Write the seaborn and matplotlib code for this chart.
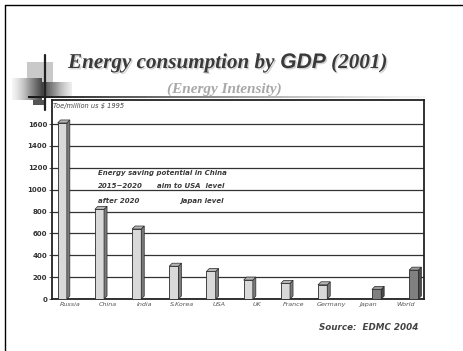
import matplotlib
matplotlib.use("Agg")
import matplotlib.pyplot as plt
import matplotlib.patheffects as pe
from matplotlib.patches import Polygon, Rectangle
import numpy as np
import pandas as pd
import seaborn as sns

# Energy intensity, toe per million US$ (1995 prices), 2001
countries = ["Russia", "China", "India", "S.Korea", "USA",
             "UK", "France", "Germany", "Japan", "World"]
intensity = [1610, 820, 640, 300, 252, 173, 143, 130, 88, 264]
groups = ["Others"] * 8 + ["Reference"] * 2
yticks = [0, 200, 400, 600, 800, 1000, 1200, 1400, 1600]

W, H = 464, 351

sns.set_theme(style="white")
plt.rcParams["font.family"] = ["DejaVu Sans"]

fig = plt.figure(figsize=(W / 100, H / 100), dpi=100)
fig.patch.set_facecolor("white")


def fx(x):
    return x / W


def fy(y):
    return 1 - y / H


# Slide decoration layer in pixel coordinates
deco = fig.add_axes([0, 0, 1, 1], zorder=0)
deco.set_xlim(0, W)
deco.set_ylim(H, 0)
deco.axis("off")
deco.plot([5, W], [5, 5], color="black", lw=1.0)
deco.plot([5, 5], [5, H], color="black", lw=1.0)
deco.add_patch(Rectangle((27, 62), 26, 22, color="#c9c9c9", lw=0))
grad = np.linspace(0, 1, 64).reshape(1, -1)
deco.imshow(grad, cmap="Greys", extent=(12, 42, 100, 78), aspect="auto",
            vmin=-0.1, vmax=1.3, zorder=1)
deco.imshow(grad[:, ::-1], cmap="Greys", extent=(42, 72, 97, 82), aspect="auto",
            vmin=-0.2, vmax=1.3, zorder=1)
deco.imshow(grad[:, ::-1], cmap="Greys", extent=(28, 425, 98, 96.5), aspect="auto",
            vmin=-0.1, vmax=1.1, zorder=2)
deco.add_patch(Rectangle((33, 100), 12, 5, color="#555555", lw=0, zorder=2))
deco.plot([45, 45], [55, 110], color="#222222", lw=1.6, zorder=3)

# Title line with mixed fonts
title_kw = dict(fontsize=15.2, fontweight="bold", fontstyle="italic",
                color="#3a3a3a", va="baseline",
                path_effects=[pe.withSimplePatchShadow(offset=(1.0, -1.0),
                                                       shadow_rgbFace="#c0c0c0",
                                                       alpha=0.7)])
t1 = fig.text(fx(68), fy(68), "Energy consumption by ", family="Liberation Serif", **title_kw)
fig.canvas.draw()
r = fig.canvas.get_renderer()
x1 = t1.get_window_extent(r).x1 / fig.bbox.width
t2 = fig.text(x1, fy(68), "GDP", family="Liberation Sans", **title_kw)
fig.canvas.draw()
x2 = t2.get_window_extent(r).x1 / fig.bbox.width
fig.text(x2, fy(68), " (2001)", family="Liberation Serif", **title_kw)

fig.text(fx(224), fy(93), "(Energy Intensity)", family="Liberation Serif",
         fontsize=11, fontweight="bold", fontstyle="italic", color="#a8a8a8",
         ha="center", va="baseline")

# Chart
ax = fig.add_axes([fx(52), fy(299), (424 - 52) / W, (299 - 100) / H], zorder=2)
df = pd.DataFrame({"country": countries, "intensity": intensity, "group": groups})
palette = {"Others": "#d9d9d9", "Reference": "#808080"}
sns.barplot(data=df, x="country", y="intensity", hue="group", palette=palette,
            order=countries, hue_order=["Others", "Reference"], dodge=True,
            width=0.9, gap=0.45, edgecolor="#2a2a2a", linewidth=0.6,
            legend=False, ax=ax, zorder=3)

ax.set_ylim(0, 1820)
ax.set_xlim(-0.5, len(countries) - 0.5)
ax.set_yticks(yticks)
ax.set_yticklabels([str(v) for v in yticks], fontsize=5, fontweight="bold", color="#333333")
ax.set_xticks(range(len(countries)))
ax.set_xticklabels(countries, fontsize=4.6, fontstyle="italic", color="#555555")
ax.set_xlabel("")
ax.set_ylabel("")
ax.tick_params(axis="y", left=True, length=2, width=0.6, pad=1.5, color="#333333")
ax.tick_params(axis="x", bottom=False, length=0, pad=2)
ax.yaxis.grid(True, color="#333333", lw=0.9)
ax.set_axisbelow(True)
for s in ax.spines.values():
    s.set_color("#222222")
    s.set_linewidth(1.3)

# Depth faces for each bar, sized from the axes scale
bbox = ax.get_window_extent(r)
dx = 3.0 * (ax.get_xlim()[1] - ax.get_xlim()[0]) / bbox.width
dy = 3.0 * (ax.get_ylim()[1] - ax.get_ylim()[0]) / bbox.height
side_col = {"#d9d9d9": "#7a7a7a", "#808080": "#4a4a4a"}
top_col = {"#d9d9d9": "#b5b5b5", "#808080": "#9a9a9a"}
for p in list(ax.patches):
    h = p.get_height()
    if not np.isfinite(h) or h <= 0:
        continue
    x0, w = p.get_x(), p.get_width()
    face = matplotlib.colors.to_hex(p.get_facecolor())
    sc = side_col.get(face, "#666666")
    tc = top_col.get(face, "#aaaaaa")
    ax.add_patch(Polygon([(x0 + w, 0), (x0 + w + dx, dy), (x0 + w + dx, h + dy), (x0 + w, h)],
                         closed=True, fc=sc, ec="#2a2a2a", lw=0.5, zorder=3))
    ax.add_patch(Polygon([(x0, h), (x0 + dx, h + dy), (x0 + w + dx, h + dy), (x0 + w, h)],
                         closed=True, fc=tc, ec="#2a2a2a", lw=0.5, zorder=3))

ax.text(0.004, 0.985, "Toe/million us $ 1995", transform=ax.transAxes,
        fontsize=4.8, fontstyle="italic", color="#444444", va="top", ha="left")

note_kw = dict(fontsize=5.0, fontweight="bold", fontstyle="italic",
               color="#3a3a3a", va="baseline", ha="left")
fig.text(fx(98), fy(175), "Energy saving potential in China", **note_kw)
fig.text(fx(98), fy(188), "2015~2020", **note_kw)
fig.text(fx(157), fy(188), "aim to USA  level", **note_kw)
fig.text(fx(98), fy(203), "after 2020", **note_kw)
fig.text(fx(180), fy(203), "Japan level", **note_kw)

fig.text(fx(418), fy(330), "Source:  EDMC 2004", fontsize=6.3, fontweight="bold",
         fontstyle="italic", color="#444444", ha="right", va="baseline")

fig.savefig("out.png", dpi=100)
